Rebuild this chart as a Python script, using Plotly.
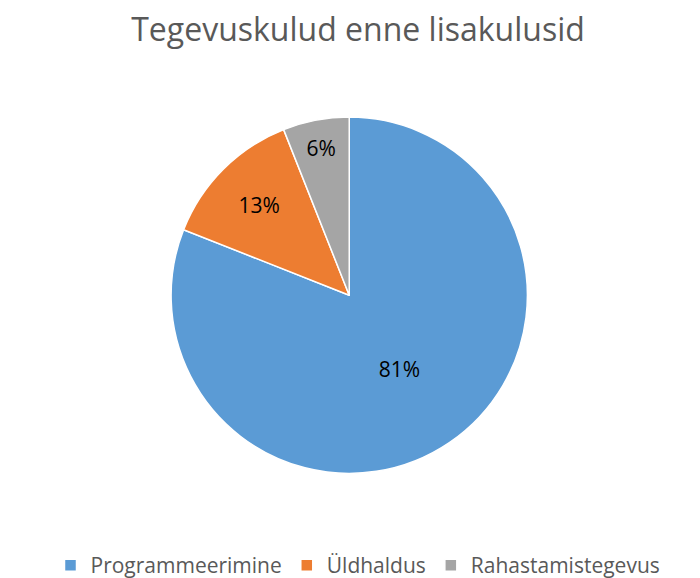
import plotly.graph_objects as go

labels = ["Programmeerimine", "Üldhaldus", "Rahastamistegevus"]
values = [81, 13, 6]
colors = ["#5B9BD5", "#ED7D31", "#A5A5A5"]

fig = go.Figure(go.Pie(
    labels=labels, values=values, sort=False, direction="clockwise", rotation=0,
    marker=dict(colors=colors, line=dict(color="white", width=1.5)),
    textinfo="percent", textposition="inside", insidetextorientation="horizontal",
    textfont=dict(size=21, color="black", family="Open Sans"),
    domain=dict(x=[0.233, 0.742], y=[0.194, 0.812]),
))

fig.update_layout(
    width=700, height=578, paper_bgcolor="white",
    margin=dict(l=0, r=0, t=0, b=0),
    title=dict(text="Tegevuskulud enne lisakulusid", x=0.5, xanchor="center",
               y=0.962, yanchor="middle",
               font=dict(size=32, color="#595959", family="Open Sans")),
    legend=dict(orientation="h", x=0.5, xanchor="center", y=0.035, yanchor="middle",
                font=dict(size=21, color="#595959", family="Open Sans"),
                itemwidth=30),
)

fig.write_html("out.html")
